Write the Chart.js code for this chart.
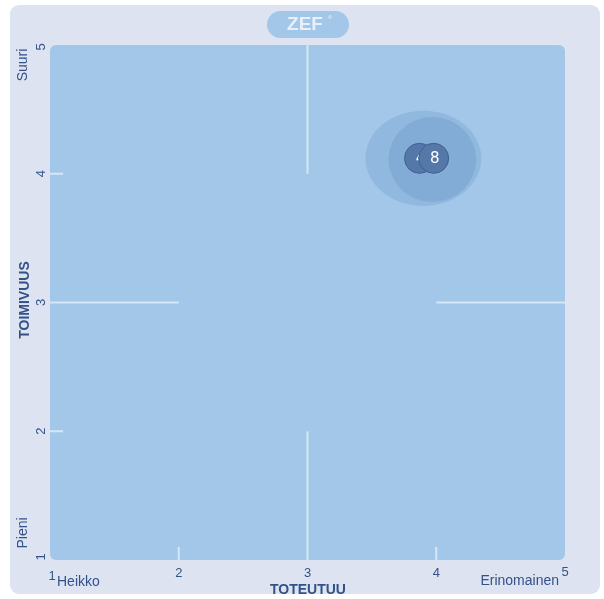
<!DOCTYPE html>
<html>
<head>
<meta charset="utf-8">
<script src="https://cdn.jsdelivr.net/npm/chart.js@4"></script>
<style>
  html, body { margin: 0; padding: 0; background: #ffffff; }
  #wrap { width: 604px; height: 599px; position: relative; }
</style>
</head>
<body>
<div id="wrap"><canvas id="zefChart" width="604" height="599"></canvas></div>
<script>
// answer labels and positions (x = TOTEUTUU, y = TOIMIVUUS)
const answerLabels = ['4', '8'];
const toteutuu = [3.87, 3.98];
const toimivuus = [4.12, 4.12];
// spread of each answer: ellipse centre and half-widths in axis units
const spreadCenterX = [3.90, 3.97];
const spreadCenterY = [4.12, 4.11];
const spreadX = [0.45, 0.34];
const spreadY = [0.37, 0.33];

const tickValues = [1, 2, 3, 4, 5];
const yEndLabels = ['Pieni', 'Suuri'];
const xEndLabels = ['Heikko', 'Erinomainen'];
const xTitle = 'TOTEUTUU';
const yTitle = 'TOIMIVUUS';

const textColor = '#33528a';
const plotFill = '#a3c7e8';
const lineColor = 'rgba(225,235,247,0.85)';

function line(ctx, x1, y1, x2, y2) {
    ctx.beginPath();
    ctx.moveTo(x1, y1);
    ctx.lineTo(x2, y2);
    ctx.stroke();
}

const zefPlugin = {
    id: 'zef',
    beforeDraw(chart) {
        const ctx = chart.ctx;
        const x = chart.scales.x, y = chart.scales.y;
        const a = chart.chartArea;
        ctx.save();
        // outer panel
        ctx.fillStyle = '#dde3f1';
        ctx.beginPath();
        ctx.roundRect(10, 5, 590, 589, 9);
        ctx.fill();
        // plot area
        ctx.fillStyle = plotFill;
        ctx.beginPath();
        ctx.roundRect(a.left, a.top, a.right - a.left, a.bottom - a.top, 6);
        ctx.fill();

        // centre cross pieces
        ctx.strokeStyle = lineColor;
        ctx.lineWidth = 2;
        const x1 = x.getPixelForValue(1), x2 = x.getPixelForValue(2), x3 = x.getPixelForValue(3);
        const x4 = x.getPixelForValue(4), x5 = x.getPixelForValue(5);
        const y1 = y.getPixelForValue(1), y2 = y.getPixelForValue(2), y3 = y.getPixelForValue(3);
        const y4 = y.getPixelForValue(4), y5 = y.getPixelForValue(5);
        line(ctx, x3, y5, x3, y4);
        line(ctx, x3, y2, x3, y1);
        line(ctx, x1, y3, x2, y3);
        line(ctx, x4, y3, x5, y3);
        // small ticks
        line(ctx, x1, y4, x1 + 13, y4);
        line(ctx, x1, y2, x1 + 13, y2);
        line(ctx, x2, y1, x2, y1 - 13);
        line(ctx, x4, y1, x4, y1 - 13);

        // title pill
        ctx.fillStyle = plotFill;
        ctx.beginPath();
        ctx.roundRect(267, 11, 82, 27, 13.5);
        ctx.fill();
        ctx.fillStyle = '#e9eff8';
        ctx.font = 'bold 19px "Liberation Sans", Arial, sans-serif';
        ctx.textAlign = 'center';
        ctx.textBaseline = 'middle';
        ctx.fillText('ZEF', 305, 25);
        ctx.font = '10px "Liberation Sans", Arial, sans-serif';
        ctx.fillText('\u00b0', 330, 20);

        // tick labels
        ctx.fillStyle = textColor;
        ctx.font = '13px "Liberation Sans", Arial, sans-serif';
        tickValues.forEach((v, i) => {
            let px = x.getPixelForValue(v);
            let py = 573;
            if (i === 0) { px += 2; py = 576; }
            if (i === 4) { py = 572; }
            ctx.fillText(String(v), px, py);
        });
        tickValues.forEach((v, i) => {
            let py = y.getPixelForValue(v);
            if (i === 0) py -= 3;
            if (i === 4) py += 2;
            ctx.save();
            ctx.translate(41, py);
            ctx.rotate(-Math.PI / 2);
            ctx.fillText(String(v), 0, 0);
            ctx.restore();
        });

        // end labels
        ctx.font = '14px "Liberation Sans", Arial, sans-serif';
        ctx.textAlign = 'left';
        ctx.fillText(xEndLabels[0], 57, 582);
        ctx.textAlign = 'right';
        ctx.fillText(xEndLabels[1], 559, 581);
        ctx.textAlign = 'center';
        [[yEndLabels[0], 533], [yEndLabels[1], 65]].forEach(([t, py]) => {
            ctx.save();
            ctx.translate(23, py);
            ctx.rotate(-Math.PI / 2);
            ctx.fillText(t, 0, 0);
            ctx.restore();
        });

        // axis titles
        ctx.font = 'bold 14px "Liberation Sans", Arial, sans-serif';
        ctx.fillText(xTitle, 308, 590);
        ctx.save();
        ctx.translate(25, 300);
        ctx.rotate(-Math.PI / 2);
        ctx.fillText(yTitle, 0, 0);
        ctx.restore();

        // spread ellipses
        answerLabels.forEach((_, i) => {
            const cx = x.getPixelForValue(spreadCenterX[i]);
            const cy = y.getPixelForValue(spreadCenterY[i]);
            const rx = x.getPixelForValue(spreadCenterX[i] + spreadX[i]) - cx;
            const ry = cy - y.getPixelForValue(spreadCenterY[i] + spreadY[i]);
            ctx.fillStyle = 'rgba(62,112,170,0.17)';
            ctx.beginPath();
            ctx.ellipse(cx, cy, rx, ry, 0, 0, Math.PI * 2);
            ctx.fill();
        });
        ctx.restore();
    },
    afterDatasetDraw(chart, args) {
        const ctx = chart.ctx;
        const el = args.meta.data[0];
        ctx.save();
        ctx.fillStyle = '#ffffff';
        ctx.font = '15px "DejaVu Sans", sans-serif';
        ctx.textAlign = 'center';
        ctx.textBaseline = 'middle';
        ctx.fillText(chart.data.datasets[args.index].label, el.x + 1, el.y + 1);
        ctx.restore();
    }
};

function bubbleFill(context) {
    const el = context.element;
    const c = context.chart.ctx;
    if (!el || el.x == null) return '#5478a8';
    const g = c.createRadialGradient(el.x - 3, el.y - 7, 2, el.x, el.y, 16);
    g.addColorStop(0, '#86a5cc');
    g.addColorStop(0.55, '#5475a5');
    g.addColorStop(1, '#3a5a8c');
    return g;
}

const datasets = answerLabels.map((lab, i) => ({
    label: lab,
    data: [{ x: toteutuu[i], y: toimivuus[i], r: 15 }],
    backgroundColor: bubbleFill,
    borderColor: '#415f92',
    borderWidth: 1,
    order: answerLabels.length - i
}));

new Chart(document.getElementById('zefChart'), {
    type: 'bubble',
    data: { datasets: datasets },
    options: {
        responsive: false,
        animation: false,
        events: [],
        layout: { padding: { top: 45, right: 39, bottom: 0, left: 0 } },
        plugins: {
            legend: { display: false },
            tooltip: { enabled: false }
        },
        scales: {
            x: {
                type: 'linear', min: 1, max: 5,
                grid: { display: false, drawTicks: false },
                border: { display: false },
                ticks: { display: false },
                afterFit: s => { s.height = 39; }
            },
            y: {
                type: 'linear', min: 1, max: 5,
                grid: { display: false, drawTicks: false },
                border: { display: false },
                ticks: { display: false },
                afterFit: s => { s.width = 50; }
            }
        }
    },
    plugins: [zefPlugin]
});
</script>
</body>
</html>
